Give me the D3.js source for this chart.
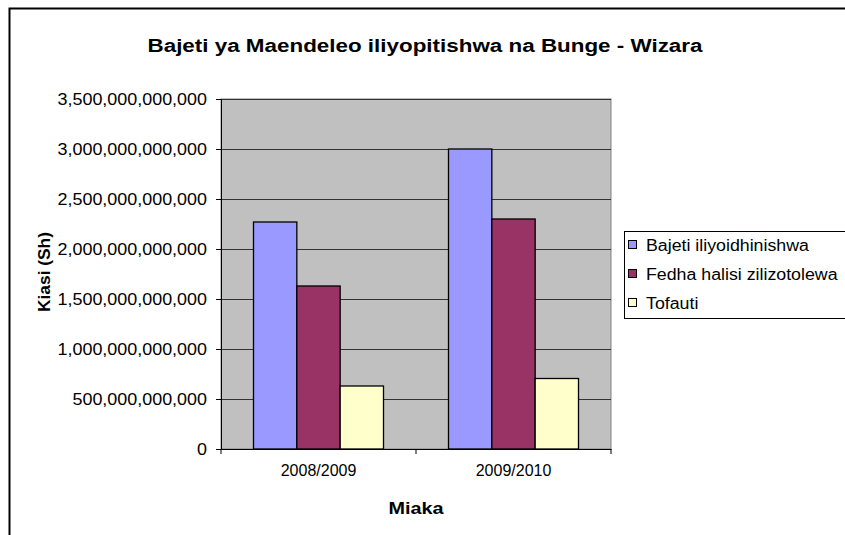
<!DOCTYPE html>
<html>
<head>
<meta charset="utf-8">
<script src="https://cdn.jsdelivr.net/npm/d3@7"></script>
<style>
  body { margin: 0; background: #fff; }
  svg { font-family: "Liberation Sans", Arial, sans-serif; }
</style>
</head>
<body>
<div id="chart"></div>
<script>
const years = ["2008/2009", "2009/2010"];
const seriesNames = ["Bajeti iliyoidhinishwa", "Fedha halisi zilizotolewa", "Tofauti"];
const bajeti = [2270000000000, 3000000000000];
const fedha = [1630000000000, 2300000000000];
const tofauti = [630000000000, 705000000000];
const yTicks = [0, 500e9, 1000e9, 1500e9, 2000e9, 2500e9, 3000e9, 3500e9];
const colors = ["#9999FF", "#993366", "#FFFFCC"];

const width = 845, height = 535;
const plot = { left: 221, top: 99, right: 611, bottom: 449 };

// the original text is drawn a bit wider than the font, stretch it
function stretch(sel, factor) {
  sel.each(function () {
    const w = this.getComputedTextLength();
    d3.select(this).attr("textLength", w * factor).attr("lengthAdjust", "spacingAndGlyphs");
  });
}

const svg = d3.select("#chart").append("svg")
  .attr("width", width)
  .attr("height", height);

// outer frame
svg.append("rect")
  .attr("x", 9.5).attr("y", 8.5)
  .attr("width", 860).attr("height", 560)
  .attr("fill", "#fff")
  .attr("stroke", "#000")
  .attr("stroke-width", 2);

const title = svg.append("text")
  .attr("x", 425).attr("y", 52)
  .attr("text-anchor", "middle")
  .style("font-size", "18px")
  .style("font-weight", "bold")
  .text("Bajeti ya Maendeleo iliyopitishwa na Bunge - Wizara");
title.attr("textLength", 555).attr("lengthAdjust", "spacingAndGlyphs");

const x0 = d3.scaleBand().domain(years).range([plot.left, plot.right]);
const x1 = d3.scaleBand().domain(seriesNames)
  .range([0, x0.bandwidth()])
  .paddingOuter(0.75).paddingInner(0);
const y = d3.scaleLinear().domain([0, 3500e9]).range([plot.bottom, plot.top]);

svg.append("rect")
  .attr("x", plot.left).attr("y", plot.top)
  .attr("width", plot.right - plot.left).attr("height", plot.bottom - plot.top)
  .attr("fill", "#C0C0C0")
  .attr("stroke", "#808080");

// gridlines
svg.append("g")
  .selectAll("line")
  .data(yTicks.slice(1))
  .join("line")
  .attr("x1", plot.left).attr("x2", plot.right)
  .attr("y1", d => Math.round(y(d)) + 0.5).attr("y2", d => Math.round(y(d)) + 0.5)
  .attr("stroke", "#333")
  .attr("stroke-width", 1);

const yAxis = svg.append("g")
  .attr("transform", `translate(${plot.left},0)`)
  .call(d3.axisLeft(y).tickValues(yTicks).tickSize(5).tickPadding(9)
    .tickFormat(d3.format(",.0f")));
yAxis.selectAll("text").style("font-size", "16px").style("fill", "#000")
  .style("font-family", "Liberation Sans, Arial, sans-serif")
  .call(stretch, 1.12);
yAxis.selectAll("line,path").attr("stroke", "#000");

const xAxis = svg.append("g")
  .attr("transform", `translate(0,${plot.bottom})`)
  .call(d3.axisBottom(x0).tickSize(0).tickPadding(16));
xAxis.select("path").attr("stroke", "#000");
xAxis.selectAll("text").style("font-size", "16px").style("fill", "#000")
  .style("font-family", "Liberation Sans, Arial, sans-serif");
// category boundary ticks
svg.append("g")
  .selectAll("line")
  .data([plot.left, x0(years[1]), plot.right])
  .join("line")
  .attr("x1", d => d).attr("x2", d => d)
  .attr("y1", plot.bottom).attr("y2", plot.bottom + 5)
  .attr("stroke", "#000");

const rows = years.map((yr, i) => ({ year: yr, values: [bajeti[i], fedha[i], tofauti[i]] }));

svg.append("g")
  .selectAll("g")
  .data(rows)
  .join("g")
  .attr("transform", d => `translate(${x0(d.year)},0)`)
  .selectAll("rect")
  .data(d => d.values.map((v, j) => ({ key: seriesNames[j], value: v, j })))
  .join("rect")
  .attr("x", d => x1(d.key))
  .attr("y", d => y(d.value))
  .attr("width", x1.bandwidth())
  .attr("height", d => plot.bottom - y(d.value))
  .attr("fill", d => colors[d.j])
  .attr("stroke", "#000")
  .attr("stroke-width", 1.3);

svg.append("text")
  .attr("transform", "translate(50,272) rotate(-90)")
  .attr("text-anchor", "middle")
  .style("font-size", "16px")
  .style("font-weight", "bold")
  .text("Kiasi (Sh)")
  .attr("textLength", 80).attr("lengthAdjust", "spacingAndGlyphs");

svg.append("text")
  .attr("x", 416).attr("y", 514)
  .attr("text-anchor", "middle")
  .style("font-size", "16px")
  .style("font-weight", "bold")
  .text("Miaka")
  .attr("textLength", 55).attr("lengthAdjust", "spacingAndGlyphs");

// legend
const legend = svg.append("g");
legend.append("rect")
  .attr("x", 624.5).attr("y", 231.5)
  .attr("width", 240).attr("height", 87)
  .attr("fill", "#fff")
  .attr("stroke", "#000");
const items = legend.selectAll("g")
  .data(seriesNames)
  .join("g")
  .attr("transform", (d, i) => `translate(0,${245 + i * 29})`);
items.append("rect")
  .attr("x", 628.5).attr("y", -4.5)
  .attr("width", 8).attr("height", 8)
  .attr("fill", (d, i) => colors[i])
  .attr("stroke", "#000");
items.append("text")
  .attr("x", 646).attr("y", 6)
  .style("font-size", "16px")
  .text(d => d)
  .call(stretch, 1.11);
</script>
</body>
</html>
